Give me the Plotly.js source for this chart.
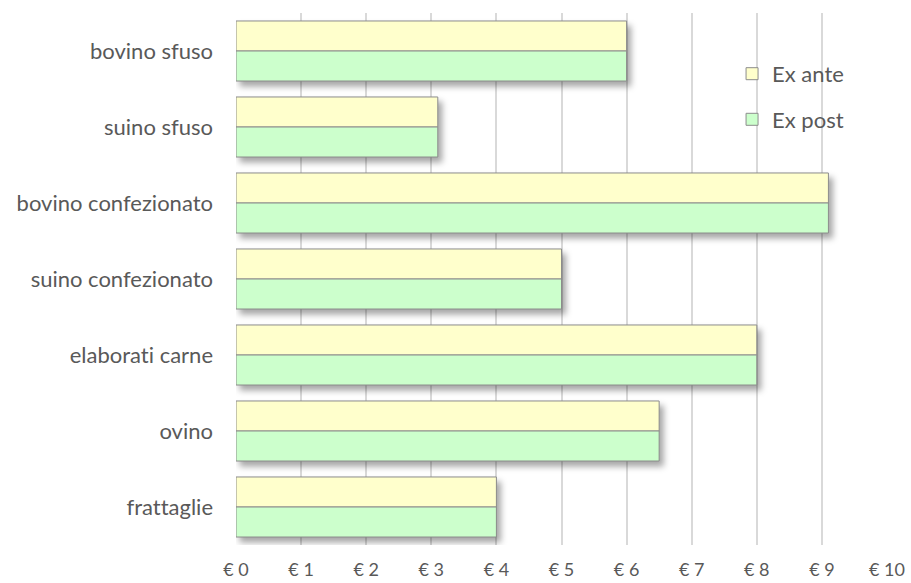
<!DOCTYPE html>
<html>
<head>
<meta charset="utf-8">
<script src="https://cdn.plot.ly/plotly-3.0.1.min.js"></script>
<style>
  html, body { margin: 0; padding: 0; background: #ffffff; }
  #chart { width: 911px; height: 583px; }
  .main-svg text { font-variant-ligatures: none; font-feature-settings: "liga" 0, "clig" 0; }
  .barlayer { filter: drop-shadow(4px 5px 3px rgba(0, 0, 0, 0.35)); }
</style>
</head>
<body>
<div id="chart"></div>
<script>
const categories = [
    "bovino sfuso",
    "suino sfuso",
    "bovino confezionato",
    "suino confezionato",
    "elaborati carne",
    "ovino",
    "frattaglie"
];
const exAnte = [6.0, 3.1, 9.1, 5.0, 8.0, 6.5, 4.0];
const exPost = [6.0, 3.1, 9.1, 5.0, 8.0, 6.5, 4.0];
const xTicks = [0, 1, 2, 3, 4, 5, 6, 7, 8, 9, 10];

const FONT = "Lato, 'Open Sans', sans-serif";
const TEXT_GREY = "#595959";
const FONT_SIZE = 22;

const traces = [
    {
        type: 'bar',
        orientation: 'h',
        name: 'Ex ante',
        legendgroup: 'a',
        y: categories,
        x: exAnte,
        marker: { color: '#ffffcc', line: { color: '#8c8c8c', width: 1 } },
        hoverinfo: 'x+y+name'
    },
    {
        type: 'bar',
        orientation: 'h',
        name: 'Ex post',
        legendgroup: 'b',
        y: categories,
        x: exPost,
        marker: { color: '#ccffcc', line: { color: '#8c8c8c', width: 1 } },
        hoverinfo: 'x+y+name'
    }
];

const layout = {
    width: 911,
    height: 583,
    paper_bgcolor: '#ffffff',
    plot_bgcolor: '#ffffff',
    font: { family: FONT, color: TEXT_GREY, size: FONT_SIZE },
    margin: { t: 13, r: 24, b: 38, l: 236 },
    barmode: 'group',
    bargap: 0.21,
    bargroupgap: 0,
    showlegend: true,
    legend: {
        x: 0.762,
        y: 0.925,
        xanchor: 'left',
        yanchor: 'top',
        bgcolor: 'rgba(0,0,0,0)',
        traceorder: 'grouped',
        tracegroupgap: 14,
        itemwidth: 30,
        font: { family: FONT, color: TEXT_GREY, size: FONT_SIZE }
    },
    xaxis: {
        range: [0, 10],
        tickvals: xTicks,
        ticktext: xTicks.map(v => "€ " + v),
        showgrid: true,
        gridcolor: '#d9d9d9',
        gridwidth: 1.5,
        zeroline: false,
        showline: false,
        ticks: '',
        ticklabelstandoff: 12,
        tickfont: { family: FONT, color: TEXT_GREY, size: 18 },
        fixedrange: true
    },
    yaxis: {
        type: 'category',
        autorange: 'reversed',
        showgrid: false,
        zeroline: false,
        showline: false,
        ticks: '',
        ticklabelstandoff: 22,
        tickfont: { family: FONT, color: TEXT_GREY, size: FONT_SIZE },
        fixedrange: true
    }
};

Plotly.newPlot('chart', traces, layout, { displayModeBar: false, responsive: false });
</script>
</body>
</html>
